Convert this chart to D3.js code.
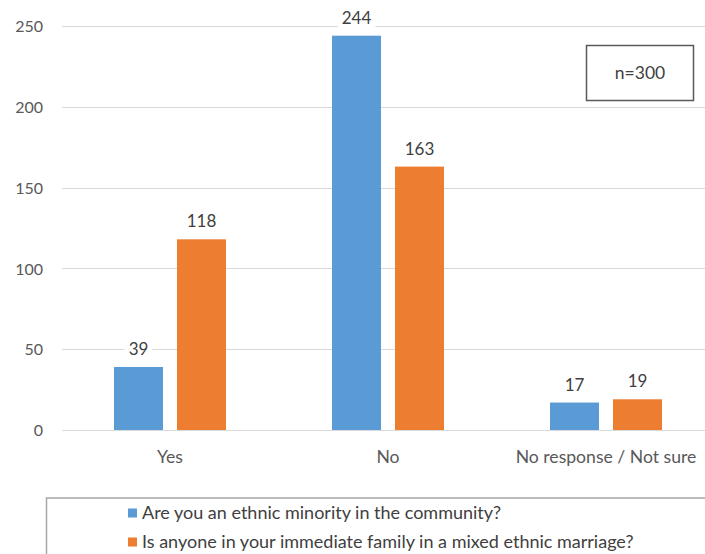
<!DOCTYPE html>
<html><head><meta charset="utf-8">
<script src="https://cdn.jsdelivr.net/npm/d3@7"></script>
<style>
html,body{margin:0;padding:0;background:#fff;}
svg{display:block;font-family:Lato,"Open Sans",sans-serif;}
</style></head>
<body>
<svg id="chart" width="705" height="554"></svg>
<script>
const categories = ["Yes", "No", "No response / Not sure"];
const seriesNames = ["Are you an ethnic minority in the community?",
                     "Is anyone in your immediate family in a mixed ethnic marriage?"];
const minorityValues = [39, 244, 17];
const mixedMarriageValues = [118, 163, 19];
const yTicks = [0, 50, 100, 150, 200, 250];
const noteText = "n=300";

const colors = ["#5b9bd5", "#ed7d31"];
const seriesValues = [minorityValues, mixedMarriageValues];

const svg = d3.select("#chart");
const x = d3.scaleBand().domain(categories).range([61, 715]).paddingInner(0).paddingOuter(0);
const y = d3.scaleLinear().domain([0, 250]).range([430, 26]);
const barW = 49, gap = 14;

// gridlines
svg.append("g").selectAll("line").data(yTicks).join("line")
  .attr("x1", 62).attr("x2", 705)
  .attr("y1", d => Math.round(y(d)) + 0.5).attr("y2", d => Math.round(y(d)) + 0.5)
  .attr("stroke", "#d9d9d9").attr("stroke-width", 1);

// y axis labels
const yAxis = d3.axisLeft(y).tickValues(yTicks).tickSize(0).tickPadding(0);
const yg = svg.append("g").attr("transform", "translate(43,0)").call(yAxis);
yg.select(".domain").remove();
yg.selectAll("text").attr("font-size", 16).attr("fill", "#595959")
  .attr("font-family", "Lato, 'Open Sans', sans-serif").attr("dy", "0.35em");

// bars
const groups = svg.append("g");
seriesValues.forEach((vals, si) => {
  groups.append("g").selectAll("rect").data(vals).join("rect")
    .attr("x", (d, i) => x(categories[i]) + x.bandwidth() / 2 + (si === 0 ? -(barW + gap / 2) : gap / 2))
    .attr("width", barW)
    .attr("y", d => y(d))
    .attr("height", d => y(0) - y(d))
    .attr("fill", colors[si]);
});

// value labels with white background
seriesValues.forEach((vals, si) => {
  vals.forEach((v, i) => {
    const cx = x(categories[i]) + x.bandwidth() / 2 + (si === 0 ? -(barW + gap) / 2 : (barW + gap) / 2);
    const g = svg.append("g");
    const t = g.append("text").attr("x", cx).attr("y", y(v) - 12)
      .attr("text-anchor", "middle").attr("font-size", 17).attr("fill", "#404040").text(v);
    const bb = t.node().getBBox();
    g.insert("rect", "text").attr("x", bb.x - 4).attr("y", bb.y).attr("width", bb.width + 8)
      .attr("height", bb.height).attr("fill", "#fff");
  });
});

// x axis labels
const xAxis = d3.axisBottom(x).tickSize(0).tickPadding(0);
const xg = svg.append("g").attr("transform", "translate(0,457)").call(xAxis);
xg.select(".domain").remove();
xg.selectAll("text").attr("font-size", 17.6).attr("fill", "#595959")
  .attr("font-family", "Lato, 'Open Sans', sans-serif").attr("dy", "0.35em");

// n=300 box
svg.append("rect").attr("x", 586.5).attr("y", 45.5).attr("width", 107).attr("height", 55)
  .attr("fill", "#fff").attr("stroke", "#595959").attr("stroke-width", 1.5);
svg.append("text").attr("x", 640).attr("y", 73).attr("dy", "0.35em")
  .attr("text-anchor", "middle").attr("font-size", 17.5).attr("fill", "#404040").text(noteText);

// legend
svg.append("rect").attr("x", 46.5).attr("y", 498).attr("width", 700).attr("height", 80)
  .attr("fill", "none").attr("stroke", "#a6a6a6").attr("stroke-width", 1.5);
const leg = svg.append("g").selectAll("g").data(seriesNames).join("g")
  .attr("transform", (d, i) => `translate(128,${513 + i * 29})`);
leg.append("rect").attr("x", 0).attr("y", -4.5).attr("width", 9).attr("height", 9)
  .attr("fill", (d, i) => colors[i]);
leg.append("text").attr("x", 14).attr("y", 0).attr("dy", "0.35em")
  .attr("font-size", 18).attr("fill", "#404040").text(d => d);
</script>
</body></html>
